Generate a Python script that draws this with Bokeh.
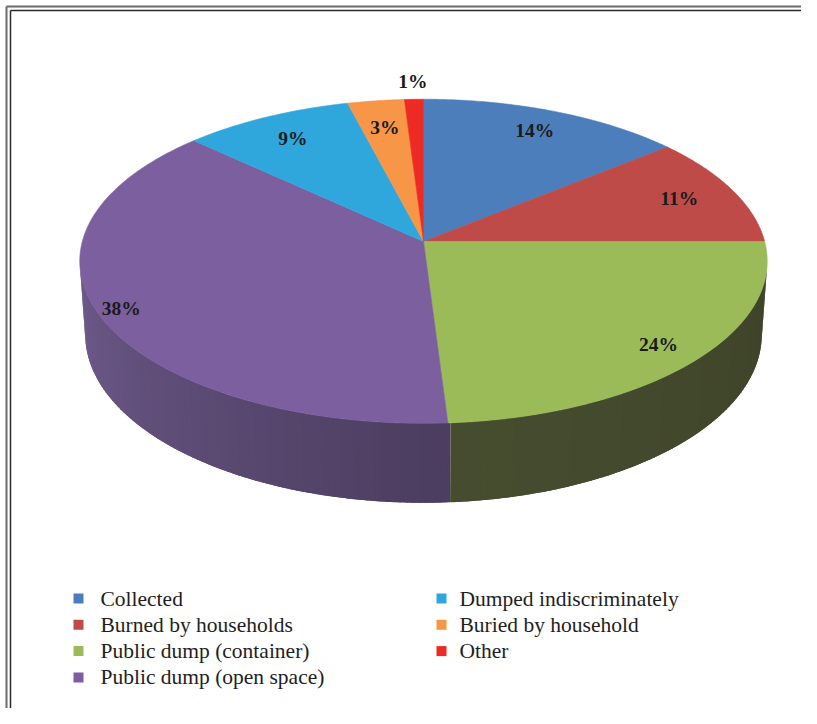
import math
from bokeh.plotting import figure
from bokeh.models import Range1d
from bokeh.embed import file_html
from bokeh.resources import INLINE
from bokeh.core.properties import value

# ---- data ----
categories = ["Collected", "Burned by households", "Public dump (container)",
              "Public dump (open space)", "Dumped indiscriminately",
              "Buried by household", "Other"]
shares = [14, 11, 24, 38, 9, 3, 1]
labels = ["14%", "11%", "24%", "38%", "9%", "3%", "1%"]

# ---- styles ----
top_colors = ["#4c7ebc", "#bf4b48", "#9bbb59", "#7c5f9f", "#30a7dc", "#f79646", "#ee2a24"]
side_colors = ["#2e4c72", "#752d2b", "#474d2f", "#4c3e60", "#1d6586", "#95582a", "#8f1915"]

W, H = 801, 708
p = figure(width=W, height=H, x_range=Range1d(0, W), y_range=Range1d(H, 0),
           output_backend="svg", toolbar_location=None, min_border=0)
p.axis.visible = False
p.grid.visible = False
p.outline_line_color = None
p.background_fill_color = "white"
p.border_fill_color = "white"

# frame (double rule, top and left visible)
p.line([6, 6], [6, H], line_color="#6a6a6a", line_width=2)
p.line([6, W], [6, 6], line_color="#6a6a6a", line_width=2)
p.line([10, 10], [10, H], line_color="#2a2a2a", line_width=1.5)
p.line([10, W], [10, 10], line_color="#2a2a2a", line_width=1.5)

# ---- 3D projection of the pie ----
CX, CY = 423.0, 241.0
PHI = math.radians(27.9)
S, C = math.sin(PHI), math.cos(PHI)
D = 7.24
F = 2470.0
DEPTH = 0.245


def proj(theta_deg, r, z):
    t = math.radians(theta_deg)
    X = r * math.sin(t)
    Y = r * math.cos(t)
    dep = D + Y * C - z * S
    return CX + F * X / dep, CY - F * (Y * S + z * C) / dep


def shade(hexcol, m):
    h = hexcol.lstrip("#")
    rgb = [int(h[i:i + 2], 16) for i in (0, 2, 4)]
    rgb = [max(0, min(255, int(round(v * m)))) for v in rgb]
    return "#%02x%02x%02x" % tuple(rgb)


total = float(sum(shares))
bounds = [0.0]
for s in shares:
    bounds.append(bounds[-1] + 360.0 * s / total)


def slice_of(theta):
    for i in range(len(shares)):
        if bounds[i] <= theta < bounds[i + 1]:
            return i
    return len(shares) - 1


# side strips (slightly overlapping, no stroke)
xs_side, ys_side, col_side = [], [], []
step = 1.0
th = 0.0
limit = -1.0 / (D * C)
while th < 360.0:
    t1, t2 = th, min(th + step, 360.0)
    tm = 0.5 * (t1 + t2)
    if math.cos(math.radians(tm)) < limit:
        i = slice_of(tm)
        e1 = t1 - 0.6 if t1 - 0.6 >= bounds[i] else t1
        e2 = t2 + 0.6 if t2 + 0.6 <= bounds[i + 1] else t2
        a = proj(e1, 1, 0)
        b = proj(e2, 1, 0)
        c2 = proj(e2, 1, -DEPTH)
        d = proj(e1, 1, -DEPTH)
        xs_side.append([a[0], b[0], c2[0], d[0]])
        ys_side.append([a[1], b[1], c2[1], d[1]])
        if tm >= 180:
            m = 1 + 0.45 * (tm - 180) / 81.0
        else:
            m = 1 - 0.12 * (180 - tm) / 81.0
        col_side.append(shade(side_colors[i], m))
    th += step
p.patches(xs_side, ys_side, fill_color=col_side, line_color=None)

# top faces
xs_top, ys_top = [], []
for i in range(len(shares)):
    a0, a1 = bounds[i], bounds[i + 1]
    n = max(2, int((a1 - a0) / 0.5))
    px, py = [CX], [CY]
    for k in range(n + 1):
        q = proj(a0 + (a1 - a0) * k / n, 1, 0)
        px.append(q[0])
        py.append(q[1])
    xs_top.append(px)
    ys_top.append(py)
p.patches(xs_top, ys_top, fill_color=top_colors, line_color=top_colors, line_width=0.6)

# percentage labels (bigger slices carry their label further out)
lx, ly = [], []
for i in range(len(shares)):
    mid = 0.5 * (bounds[i] + bounds[i + 1])
    r = 1.14 if shares[i] < 2 else 0.78 + 0.004 * shares[i]
    q = proj(mid, r, 0)
    lx.append(q[0])
    ly.append(q[1])
p.text(lx, ly, text=labels, text_font=value("Liberation Serif"), text_font_style="bold",
       text_font_size="19.5px", text_color="#1a1a1a", text_align="center",
       text_baseline="middle")

# legend (two columns)
sq_x, sq_y, tx, ty = [], [], [], []
for i, cat in enumerate(categories):
    col = 0 if i < 4 else 1
    row = i if i < 4 else i - 4
    y = 598 + 26.3 * row
    sq_x.append(78 if col == 0 else 441)
    sq_y.append(y)
    tx.append(100 if col == 0 else 459)
    ty.append(y)
p.scatter(sq_x, sq_y, marker="square", size=10, fill_color=top_colors, line_color=None)
p.text(tx, ty, text=categories, text_font=value("Liberation Serif"),
       text_font_size="21.5px", text_color="#1e1e1e", text_align="left",
       text_baseline="middle")

open("out.html", "w").write(file_html(p, INLINE))
